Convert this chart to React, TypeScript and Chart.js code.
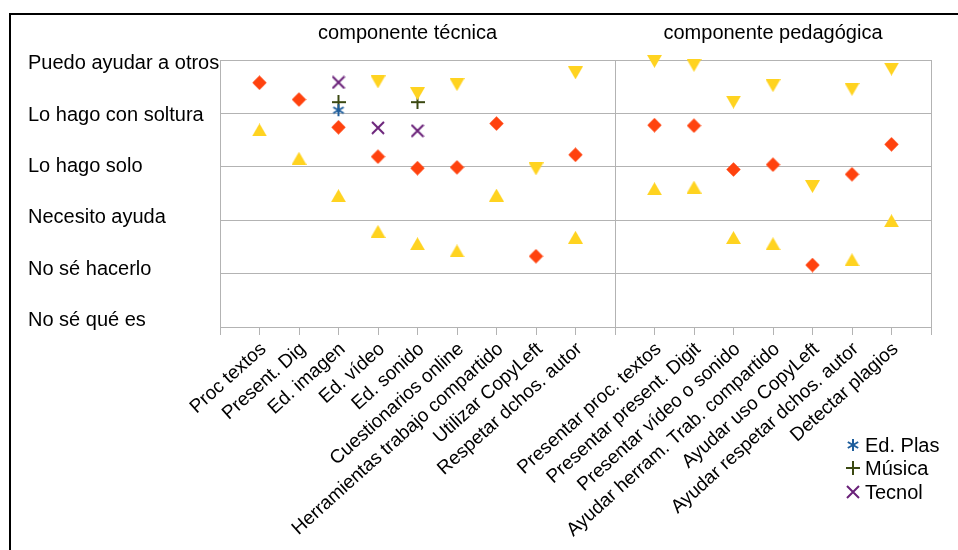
import React, { useEffect, useRef } from 'react';
import { Chart, registerables } from 'chart.js';

Chart.register(...registerables);

// Self-assessment levels, bottom (0) to top (5)
const levelLabels = [
  'No sé qué es',
  'No sé hacerlo',
  'Necesito ayuda',
  'Lo hago solo',
  'Lo hago con soltura',
  'Puedo ayudar a otros',
];

const sectionTitles = ['componente técnica', 'componente pedagógica'];

const techCategories = [
  'Proc textos',
  'Present. Dig',
  'Ed. imagen',
  'Ed. vídeo',
  'Ed. sonido',
  'Cuestionarios online',
  'Herramientas trabajo compartido',
  'Utilizar CopyLeft',
  'Respetar dchos. autor',
];

const pedaCategories = [
  'Presentar proc. textos',
  'Presentar present. Digit',
  'Presentar vídeo o sonido',
  'Ayudar herram. Trab. compartido',
  'Ayudar uso CopyLeft',
  'Ayudar respetar dchos. autor',
  'Detectar plagios',
];

// Red diamonds
const diamondTech = [4.575, 4.26, 3.74, 3.19, 2.975, 2.99, 3.81, 1.325, 3.225];
const diamondPeda = [3.78, 3.77, 2.95, 3.04, 1.16, 2.86, 3.42];

// Yellow upward triangles
const upTech = [3.69, 3.16, 2.46, 1.79, 1.56, 1.425, 2.47, null, 1.68];
const upPeda = [2.59, 2.62, 1.675, 1.56, null, 1.26, 1.99];

// Yellow downward triangles
const downTech = [null, null, null, 4.59, 4.37, 4.54, null, 2.96, 4.76];
const downPeda = [4.975, 4.9, 4.21, 4.52, 2.63, 4.45, 4.83];

// Subject groups (technical component only)
const edPlasTech = [null, null, 4.06, null, null, null, null, null, null];
const musicaTech = [null, null, 4.21, null, 4.21, null, null, null, null];
const tecnolTech = [null, null, 4.58, 3.73, 3.675, null, null, null, null];

const noPeda: (number | null)[] = pedaCategories.map(() => null);

// x positions: technical items at 1..9, a blank slot as separator, pedagogical items after it
const techPositions = techCategories.map((_, i) => i + 1);
const separatorPos = techCategories.length + 1;
const pedaPositions = pedaCategories.map((_, i) => separatorPos + 1 + i);
const xMax = separatorPos + pedaCategories.length + 1;

const categoryAt: Record<number, string> = {};
techPositions.forEach((p, i) => (categoryAt[p] = techCategories[i]));
pedaPositions.forEach((p, i) => (categoryAt[p] = pedaCategories[i]));

function toPoints(tech: (number | null)[], peda: (number | null)[]) {
  const pts: { x: number; y: number }[] = [];
  tech.forEach((v, i) => {
    if (v !== null) pts.push({ x: techPositions[i], y: v });
  });
  peda.forEach((v, i) => {
    if (v !== null) pts.push({ x: pedaPositions[i], y: v });
  });
  return pts;
}

const FONT = '"Liberation Sans", Arial, Helvetica, sans-serif';
const GRID = '#b3b3b3';

const RED = '#ff420e';
const YELLOW = '#ffd320';
const BLUE = '#1f5e9c';
const OLIVE = '#3b4912';
const PURPLE = '#6a2179';

function makeMarker(w: number, h: number, draw: (ctx: CanvasRenderingContext2D) => void) {
  const c = document.createElement('canvas');
  c.width = w;
  c.height = h;
  const ctx = c.getContext('2d')!;
  draw(ctx);
  return c;
}

function buildMarkers() {
  const diamond = makeMarker(15, 15, (ctx) => {
    ctx.fillStyle = RED;
    ctx.beginPath();
    ctx.moveTo(7.5, 0.3);
    ctx.lineTo(14.7, 7.5);
    ctx.lineTo(7.5, 14.7);
    ctx.lineTo(0.3, 7.5);
    ctx.closePath();
    ctx.fill();
  });
  const up = makeMarker(15, 13, (ctx) => {
    ctx.fillStyle = YELLOW;
    ctx.beginPath();
    ctx.moveTo(0, 13);
    ctx.lineTo(7.5, 0);
    ctx.lineTo(15, 13);
    ctx.closePath();
    ctx.fill();
  });
  const down = makeMarker(15, 13, (ctx) => {
    ctx.fillStyle = YELLOW;
    ctx.beginPath();
    ctx.moveTo(0, 0);
    ctx.lineTo(15, 0);
    ctx.lineTo(7.5, 13);
    ctx.closePath();
    ctx.fill();
  });
  const asterisk = makeMarker(14, 14, (ctx) => {
    ctx.strokeStyle = BLUE;
    ctx.lineWidth = 2;
    const c = 7;
    const r = 6;
    [90, 30, 150].forEach((deg) => {
      const a = (deg * Math.PI) / 180;
      ctx.beginPath();
      ctx.moveTo(c - r * Math.cos(a), c - r * Math.sin(a));
      ctx.lineTo(c + r * Math.cos(a), c + r * Math.sin(a));
      ctx.stroke();
    });
  });
  const plus = makeMarker(14, 14, (ctx) => {
    ctx.strokeStyle = OLIVE;
    ctx.lineWidth = 2;
    ctx.beginPath();
    ctx.moveTo(7, 0);
    ctx.lineTo(7, 14);
    ctx.moveTo(0, 7);
    ctx.lineTo(14, 7);
    ctx.stroke();
  });
  const cross = makeMarker(14, 14, (ctx) => {
    ctx.strokeStyle = PURPLE;
    ctx.lineWidth = 2;
    ctx.beginPath();
    ctx.moveTo(1, 1);
    ctx.lineTo(13, 13);
    ctx.moveTo(13, 1);
    ctx.lineTo(1, 13);
    ctx.stroke();
  });
  return { diamond, up, down, asterisk, plus, cross };
}

export default function App() {
  const canvasRef = useRef<HTMLCanvasElement | null>(null);

  useEffect(() => {
    const canvas = canvasRef.current;
    if (!canvas) return;
    const m = buildMarkers();

    const series = (label: string, data: { x: number; y: number }[], marker: HTMLCanvasElement, legend: boolean) => ({
      label,
      data,
      pointStyle: marker,
      pointRadius: 7,
      pointHoverRadius: 7,
      showLine: false,
      clip: false as const,
      inLegend: legend,
    });

    const datasets = [
      series('rombos', toPoints(diamondTech, diamondPeda), m.diamond, false),
      series('triángulos', toPoints(upTech, upPeda), m.up, false),
      series('triángulos invertidos', toPoints(downTech, downPeda), m.down, false),
      series('Ed. Plas', toPoints(edPlasTech, noPeda), m.asterisk, true),
      series('Música', toPoints(musicaTech, noPeda), m.plus, true),
      series('Tecnol', toPoints(tecnolTech, noPeda), m.cross, true),
    ];

    const titlesAndLegend = {
      id: 'titlesAndLegend',
      afterDraw(chart: any) {
        const ctx = chart.ctx as CanvasRenderingContext2D;
        const xs = chart.scales.x;
        ctx.save();
        ctx.fillStyle = '#000';
        ctx.font = `20px ${FONT}`;
        ctx.textAlign = 'center';
        ctx.textBaseline = 'alphabetic';
        ctx.fillText(sectionTitles[0], xs.getPixelForValue(4.75), 39);
        ctx.fillText(sectionTitles[1], xs.getPixelForValue(14), 39);

        // legend for the subject groups
        const items = chart.data.datasets.filter((d: any) => d.inLegend);
        const symX = 853;
        const textX = 865;
        let cy = 444.5;
        ctx.textAlign = 'left';
        items.forEach((d: any) => {
          const img = d.pointStyle as HTMLCanvasElement;
          ctx.drawImage(img, Math.round(symX - img.width / 2), Math.round(cy - img.height / 2));
          ctx.fillText(d.label, textX, cy + 7);
          cy += 23.5;
        });
        ctx.restore();
      },
    };

    const chart = new Chart(canvas, {
      type: 'scatter',
      data: { datasets: datasets as any },
      options: {
        animation: false,
        responsive: false,
        events: [],
        layout: { padding: { left: 28, top: 60, right: 27, bottom: 0 } },
        plugins: {
          legend: { display: false },
          tooltip: { enabled: false },
          title: { display: false },
        },
        scales: {
          x: {
            type: 'linear',
            min: 0,
            max: xMax,
            afterBuildTicks: (s: any) => {
              const t = [];
              for (let v = 0; v <= xMax; v++) t.push({ value: v });
              s.ticks = t;
            },
            afterFit: (s: any) => {
              s.height = 223;
            },
            grid: {
              color: (c: any) =>
                c.tick && (c.tick.value === 0 || c.tick.value === separatorPos || c.tick.value === xMax)
                  ? GRID
                  : 'rgba(0,0,0,0)',
              tickColor: GRID,
              tickLength: 8,
              lineWidth: 1,
            },
            border: { display: true, color: GRID },
            ticks: {
              autoSkip: false,
              minRotation: 42,
              maxRotation: 42,
              padding: 3,
              labelOffset: 4,
              color: '#000',
              font: { family: FONT, size: 19 },
              callback: (v: any) => categoryAt[v as number] ?? '',
            },
          },
          y: {
            type: 'linear',
            position: 'left',
            weight: 0,
            min: 0,
            max: levelLabels.length - 1,
            afterBuildTicks: (s: any) => {
              s.ticks = levelLabels.map((_, i) => ({ value: i }));
            },
            afterFit: (s: any) => {
              s.width = 0;
            },
            grid: { color: GRID, drawTicks: false, lineWidth: 1 },
            border: { display: true, color: GRID },
            ticks: { display: false },
          },
          yl: {
            type: 'linear',
            position: 'left',
            weight: 1,
            min: 0,
            max: 5.2,
            afterBuildTicks: (s: any) => {
              s.ticks = levelLabels.map((_, i) => ({ value: i }));
            },
            afterFit: (s: any) => {
              s.width = 192;
            },
            grid: { display: false, drawTicks: false },
            border: { display: false },
            ticks: {
              crossAlign: 'far',
              padding: 0,
              labelOffset: -6.5,
              color: '#000',
              font: { family: FONT, size: 20 },
              callback: (v: any) => levelLabels[v as number] ?? '',
            },
          },
        },
      } as any,
      plugins: [titlesAndLegend],
    });

    return () => chart.destroy();
  }, []);

  return (
    <div
      style={{
        position: 'fixed',
        left: 0,
        top: 0,
        width: 958,
        height: 550,
        background: '#fff',
        overflow: 'hidden',
      }}
    >
      <div
        style={{
          position: 'absolute',
          left: 9,
          top: 13,
          right: -10,
          bottom: -10,
          borderLeft: '2px solid #000',
          borderTop: '2px solid #000',
        }}
      />
      <canvas
        ref={canvasRef}
        width={958}
        height={550}
        style={{ position: 'absolute', left: 0, top: 0, width: 958, height: 550 }}
      />
    </div>
  );
}
